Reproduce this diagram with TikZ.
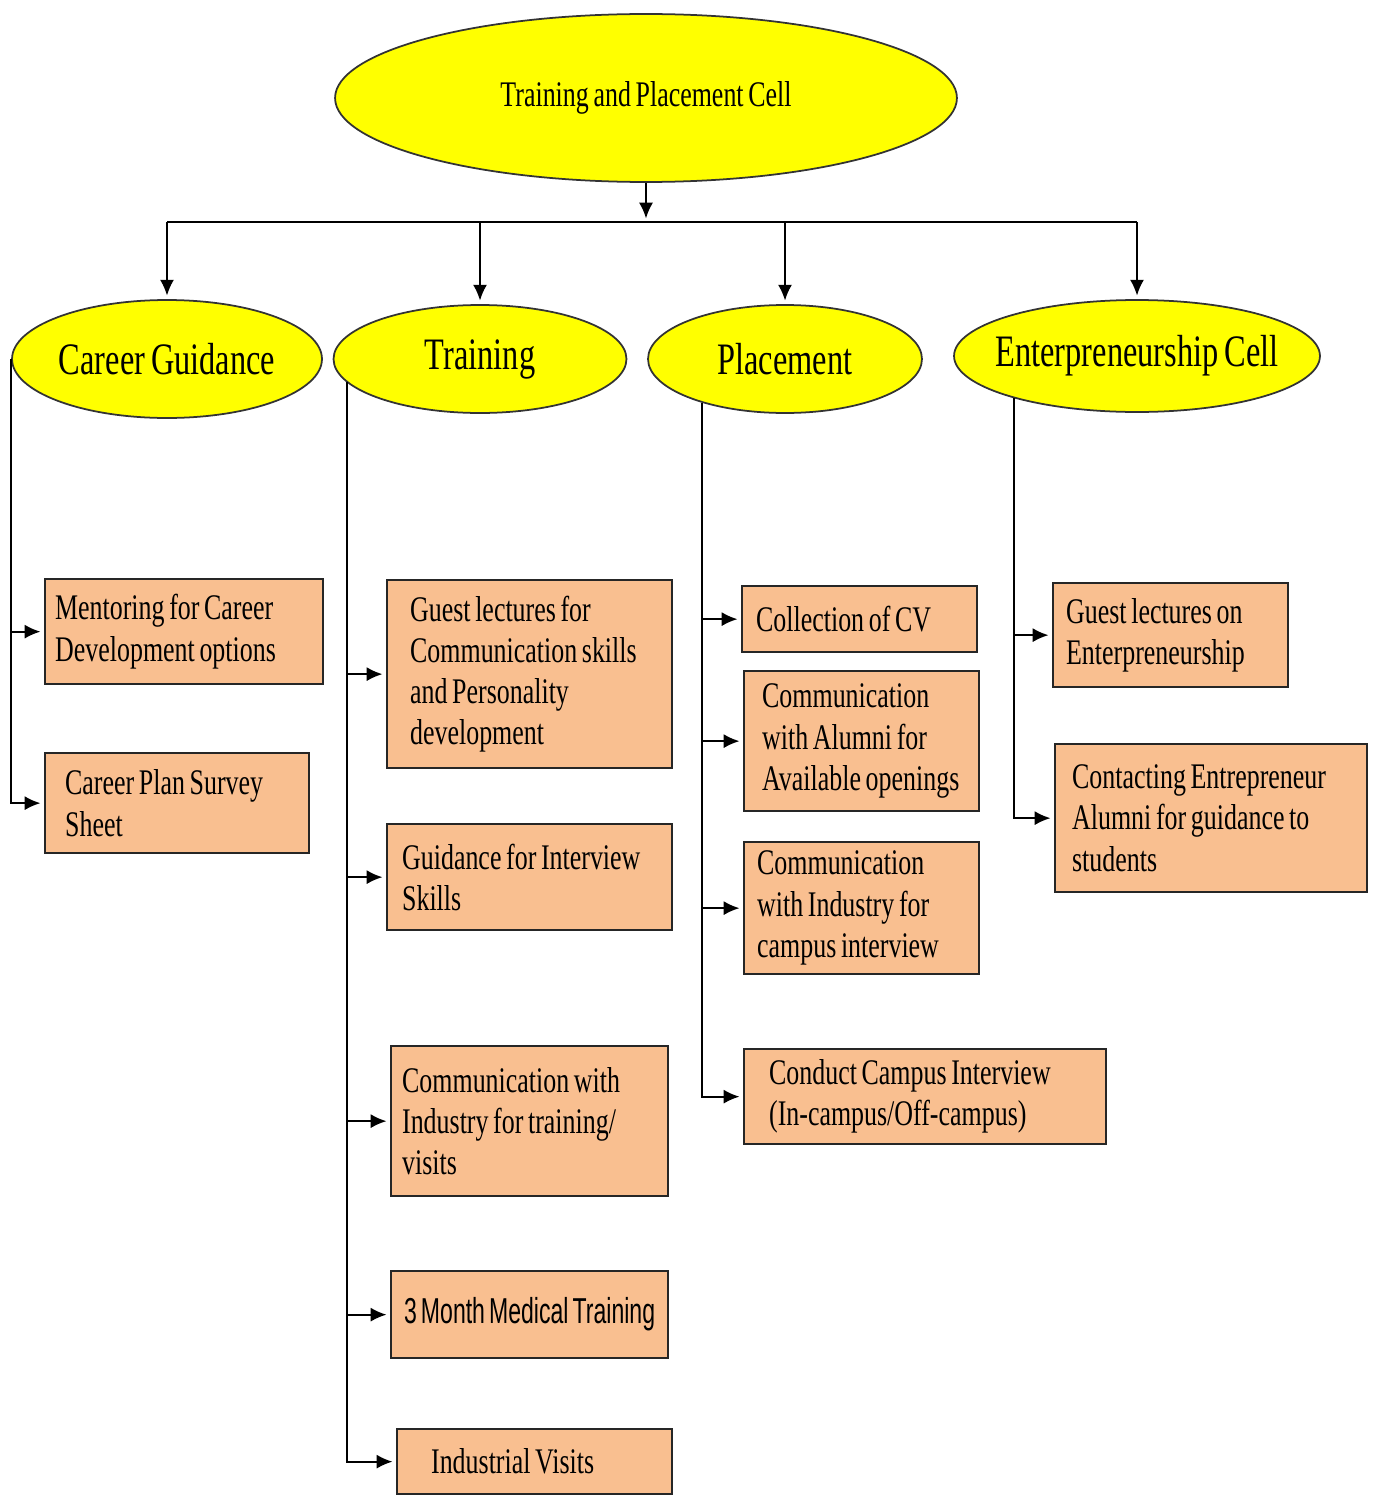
\documentclass[tikz,border=0pt]{standalone}
\usepackage{fontspec}
\setmainfont{Liberation Serif}[FakeStretch=0.72,WordSpace=0.72]
\newfontfamily\medfont{Liberation Sans}[FakeStretch=0.64,WordSpace=0.64]
\usetikzlibrary{shapes.geometric,arrows.meta}
\definecolor{cellyellow}{HTML}{FFFF00}
\definecolor{boxorange}{HTML}{F9BF90}
\newcommand{\nowide}[1]{\makebox[0pt]{#1}}
\hyphenpenalty=10000
\exhyphenpenalty=10000

\begin{document}
\begin{tikzpicture}
  [x=0.02cm, y=-0.02cm,
   cell/.style={ellipse,draw=black!80,line width=1pt,fill=cellyellow,inner sep=0pt,font=\fontsize{25.6}{30}\selectfont},
   task/.style={rectangle,draw=black!85,line width=1.3pt,fill=boxorange,anchor=north west,align=left,inner ysep=0pt,
     font=\fontsize{20.5}{23.5}\selectfont,execute at begin node={\spaceskip=0pt\xspaceskip=0pt}},
   link/.style={line width=1.1pt},
   feed/.style={line width=1.1pt,shorten >=2pt,-{Latex[length=9pt,width=8pt]}}]
  \useasboundingbox (0,0) rectangle (1376,1497);

  \node [cell,minimum width=12.44cm,minimum height=3.36cm,font=\fontsize{20.5}{24}\selectfont] (tpc) at (646,98) {\nowide{Training and Placement Cell}};
  \node [cell,minimum width=6.2cm,minimum height=2.36cm] (cg) at (167,359) {\nowide{Career Guidance}};
  \node [cell,minimum width=5.86cm,minimum height=2.16cm] (tr) at (480,359) {\nowide{Training}};
  \node [cell,minimum width=5.48cm,minimum height=2.16cm] (pl) at (785,359) {\nowide{Placement}};
  \node [cell,minimum width=7.32cm,minimum height=2.24cm] (ec) at (1137,356) {\nowide{Enterpreneurship Cell}};
  \coordinate (bus) at (646,222);

  % career guidance
  \node [task,text width=5.16cm,minimum height=2.1cm,inner xsep=0.2cm] (mentor) at (44,578) {Mentoring for Career\\Development options};
  \node [task,text width=4.48cm,minimum height=2cm,inner xsep=0.4cm] (plan) at (44,752) {Career Plan Survey\\Sheet};

  % training
  \node [task,text width=4.78cm,minimum height=3.76cm,inner xsep=0.46cm] (guest) at (386,579) {Guest lectures for\\Communication skills\\and Personality\\development};
  \node [task,text width=5.1cm,minimum height=2.12cm,inner xsep=0.3cm] (interview) at (386,823) {Guidance for Interview\\Skills};
  \node [task,text width=5.1cm,minimum height=3cm,inner xsep=0.22cm] (indus) at (390,1045) {Communication with\\Industry for training/\\visits};
  \node [task,minimum width=5.54cm,minimum height=1.74cm,inner xsep=0.1cm,font=\fontsize{20.5}{23.5}\medfont] (medical) at (390,1270) {3 Month Medical Training};
  \node [task,text width=4.14cm,minimum height=1.3cm,inner xsep=0.68cm] (visits) at (396,1428) {Industrial Visits};

  % placement
  \node [task,text width=4.14cm,minimum height=1.32cm,inner xsep=0.28cm] (cv) at (741,585) {Collection of CV};
  \node [task,text width=3.98cm,minimum height=2.8cm,inner xsep=0.36cm] (alumni) at (743,670) {Communication\\with Alumni for\\Available openings};
  \node [task,text width=4.18cm,minimum height=2.64cm,inner xsep=0.26cm] (campus) at (743,841) {Communication\\with Industry for\\campus interview};
  \node [task,text width=6.24cm,minimum height=1.9cm,inner xsep=0.5cm] (conduct) at (743,1048) {Conduct Campus Interview\\(In-campus/Off-campus)};

  % enterpreneurship cell
  \node [task,text width=4.18cm,minimum height=2.08cm,inner xsep=0.26cm] (lecture) at (1052,582) {Guest lectures on\\Enterpreneurship};
  \node [task,text width=5.56cm,minimum height=2.96cm,inner xsep=0.34cm] (contact) at (1054,743) {Contacting Entrepreneur\\Alumni for guidance to\\students};

  % top level
  \draw [feed] (tpc.south) -- (bus);
  \draw [link] (cg.north |- bus) -- (ec.north |- bus);
  \draw [feed] (cg.north |- bus) -- (cg.north);
  \draw [feed] (tr.north |- bus) -- (tr.north);
  \draw [feed] (pl.north |- bus) -- (pl.north);
  \draw [feed] (ec.north |- bus) -- (ec.north);

  % career guidance to boxes
  \draw [feed] (cg.west) |- (mentor.west);
  \draw [feed] (cg.west) |- (plan.west);

  % training to boxes
  \draw [feed] (tr.190) |- (guest.west);
  \draw [feed] (tr.190) |- (interview.west);
  \draw [feed] (tr.190) |- (indus.west);
  \draw [feed] (tr.190) |- (medical.west);
  \draw [feed] (tr.190) |- (visits.west);

  % placement to boxes
  \draw [feed] (pl.208) |- (cv.west);
  \draw [feed] (pl.208) |- (alumni.west);
  \draw [feed] (pl.208) |- (campus.west);
  \draw [feed] (pl.208) |- (conduct.west);

  % enterpreneurship cell to boxes
  \draw [feed] (ec.199) |- (lecture.west);
  \draw [feed] (ec.199) |- (contact.west);
\end{tikzpicture}
\end{document}
